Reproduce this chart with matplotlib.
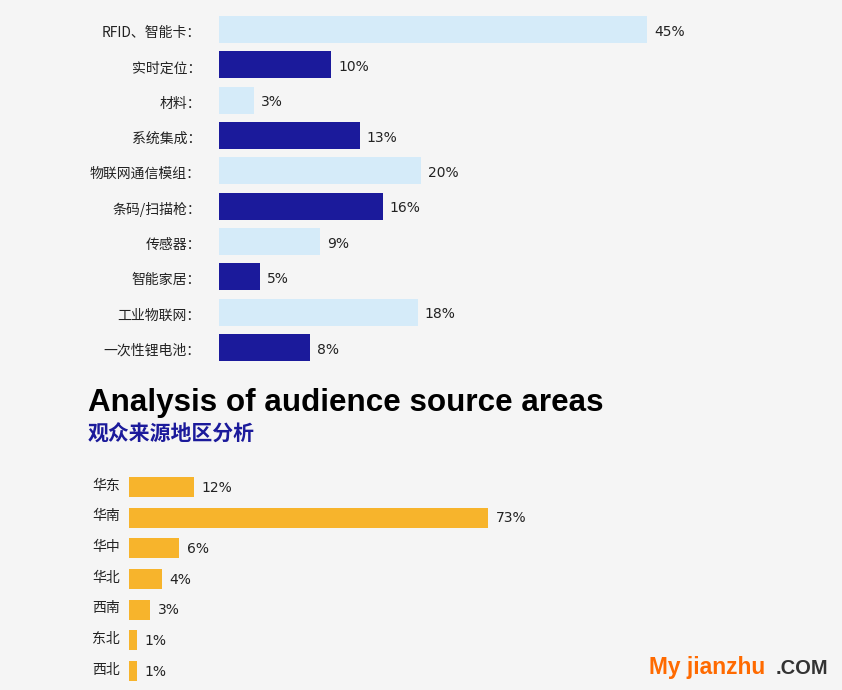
import matplotlib
matplotlib.use("Agg")
import matplotlib.pyplot as plt
from matplotlib.transforms import ScaledTranslation

plt.rcParams['font.family'] = ['Noto Sans CJK SC', 'DejaVu Sans']

# top chart: product categories
cats = ['RFID、智能卡：', '实时定位：', '材料：', '系统集成：', '物联网通信模组：',
        '条码/扫描枪：', '传感器：', '智能家居：', '工业物联网：', '一次性锂电池：']
labels = ['45%', '10%', '3%', '13%', '20%', '16%', '9%', '5%', '18%', '8%']
# bar lengths as drawn in the picture (not strictly proportional to the labels)
lengths = [45, 11.8, 3.7, 14.8, 21.2, 17.2, 10.6, 4.3, 20.9, 9.6]

# bottom chart: audience regions
regions = ['华东', '华南', '华中', '华北', '西南', '东北', '西北']
region_labels = ['12%', '73%', '6%', '4%', '3%', '1%', '1%']
region_lengths = [13.2, 73, 10.2, 6.7, 4.3, 1.6, 1.6]

bg = '#f5f5f5'
light = '#d5ebf9'
navy = '#1b1a9b'
gold = '#f7b42c'

W, H = 842, 690
fig = plt.figure(figsize=(W / 100, H / 100), dpi=100, facecolor=bg)


def px_axes(left, top, width, height):
    return fig.add_axes([left / W, 1 - (top + height) / H, width / W, height / H])


# ---- top chart ----
ax1 = px_axes(219, 11.8, 50 * 9.51, 353.3)
ax1.set_facecolor('none')
colors = [light if i % 2 == 0 else navy for i in range(len(cats))]
ax1.barh(range(len(cats)), lengths, height=0.76, color=colors)
ax1.set_xlim(0, 50)
ax1.set_ylim(len(cats) - 0.5, -0.5)
ax1.set_yticks(range(len(cats)))
ax1.set_yticklabels(cats, fontsize=10, color='#222222')
ax1.tick_params(axis='y', length=0, pad=13)
ax1.set_xticks([])
shift = ScaledTranslation(0, -2 / 100, fig.dpi_scale_trans)
for lbl in ax1.get_yticklabels():
    lbl.set_transform(lbl.get_transform() + shift)
for s in ax1.spines.values():
    s.set_visible(False)
for i, (v, t) in enumerate(zip(lengths, labels)):
    ax1.annotate(t, (v, i), xytext=(5, -1.5), textcoords='offset points',
                 va='center', ha='left', fontsize=10, family='DejaVu Sans',
                 color='#222222')

# ---- titles ----
fig.text(88 / W, 1 - 411.5 / H, 'Analysis of audience source areas',
         family='Liberation Sans', fontweight='bold', fontsize=22.6,
         color='black', va='baseline', ha='left')
fig.text(88 / W, 1 - 434 / H, '观众来源地区分析', fontweight='bold',
         fontsize=15, color=navy, va='center', ha='left')

# ---- bottom chart ----
ax2 = px_axes(129, 471.7, 80 * 4.92, 214.7)
ax2.set_facecolor('none')
ax2.barh(range(len(regions)), region_lengths, height=0.65, color=gold)
ax2.set_xlim(0, 80)
ax2.set_ylim(len(regions) - 0.5, -0.5)
ax2.set_xticks([])
ax2.set_yticks([])
for s in ax2.spines.values():
    s.set_visible(False)
for i, (v, t, r) in enumerate(zip(region_lengths, region_labels, regions)):
    ax2.annotate(t, (v, i), xytext=(5.5, -0.5), textcoords='offset points',
                 va='center', ha='left', fontsize=10, family='DejaVu Sans',
                 color='#222222')
    ax2.text(-37 / (80 * 4.92), i - 0.05, r, transform=ax2.get_yaxis_transform(),
             va='center', ha='left', fontsize=10, color='#222222')

# ---- watermark ----
fig.text(649 / W, 1 - 674 / H, 'My jianzhu', family='Liberation Sans',
         fontweight='bold', fontsize=16.4, color='#ff6a00', va='baseline', ha='left')
fig.text(776 / W, 1 - 674 / H, '.COM', family='Liberation Sans',
         fontweight='bold', fontsize=14.5, color='#333333', va='baseline', ha='left')

fig.savefig('out.png', dpi=100, facecolor=bg)
